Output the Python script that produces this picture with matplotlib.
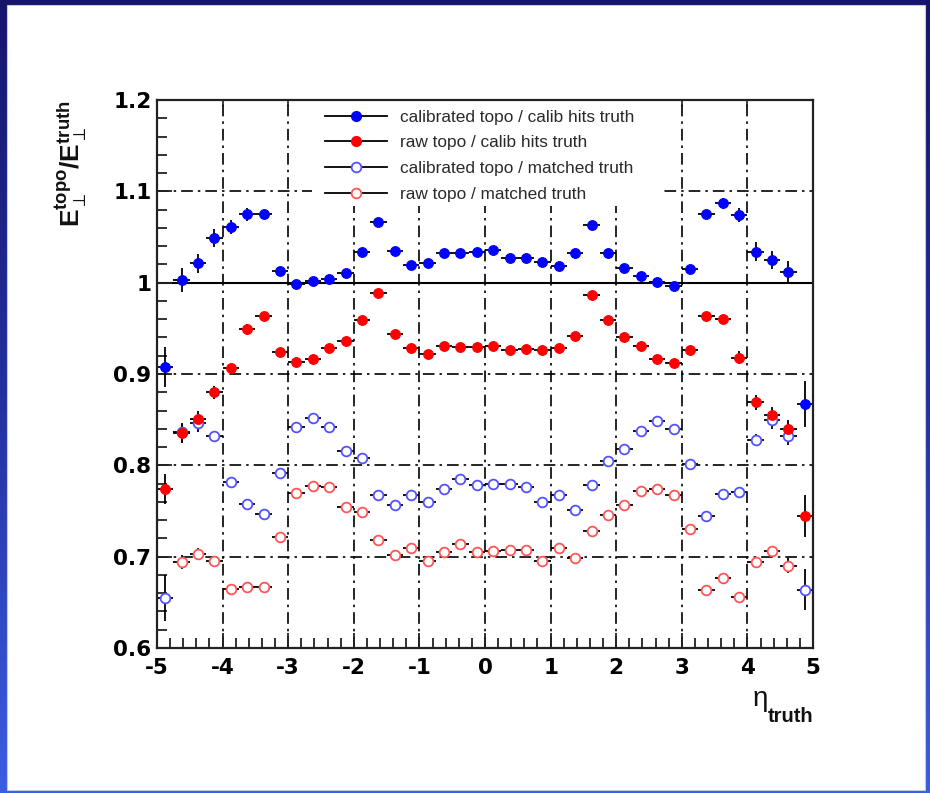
import numpy as np
import matplotlib
matplotlib.use("Agg")
import matplotlib.pyplot as plt
from matplotlib.lines import Line2D
from matplotlib.patches import Rectangle
from matplotlib.colors import LinearSegmentedColormap

plt.rcParams['mathtext.fontset'] = 'custom'
plt.rcParams['mathtext.rm'] = 'Liberation Sans'
plt.rcParams['mathtext.bf'] = 'Liberation Sans:bold'
plt.rcParams['mathtext.it'] = 'Liberation Sans:italic'

# eta bin centres (bin width 0.25)
eta = [-4.875, -4.625, -4.375, -4.125, -3.875, -3.625, -3.375, -3.125,
       -2.875, -2.625, -2.375, -2.125, -1.875, -1.625, -1.375, -1.125,
       -0.875, -0.625, -0.375, -0.125, 0.125, 0.375, 0.625, 0.875,
       1.125, 1.375, 1.625, 1.875, 2.125, 2.375, 2.625, 2.875,
       3.125, 3.375, 3.625, 3.875, 4.125, 4.375, 4.625, 4.875]
half_bin = 0.125

calib_over_calibhits = [0.908, 1.003, 1.021, 1.049, 1.061, 1.075, 1.075, 1.013,
                        0.998, 1.002, 1.004, 1.011, 1.034, 1.066, 1.035, 1.019,
                        1.021, 1.032, 1.032, 1.034, 1.036, 1.027, 1.027, 1.023,
                        1.018, 1.032, 1.063, 1.032, 1.016, 1.007, 1.001, 0.996,
                        1.0145, 1.075, 1.087, 1.074, 1.034, 1.025, 1.012, 0.867]
calib_over_calibhits_err = [0.022, 0.013, 0.010, 0.010, 0.008, 0.007, 0.004, 0.003,
                            0.003, 0.003, 0.003, 0.003, 0.003, 0.003, 0.003, 0.003,
                            0.003, 0.003, 0.003, 0.003, 0.003, 0.003, 0.003, 0.003,
                            0.003, 0.003, 0.003, 0.003, 0.003, 0.003, 0.003, 0.003,
                            0.003, 0.005, 0.006, 0.008, 0.010, 0.010, 0.012, 0.025]

raw_over_calibhits = [0.774, 0.835, 0.851, 0.880, 0.907, 0.949, 0.964, 0.924,
                      0.913, 0.916, 0.928, 0.936, 0.959, 0.989, 0.944, 0.928,
                      0.922, 0.931, 0.930, 0.930, 0.931, 0.926, 0.927, 0.926,
                      0.928, 0.942, 0.987, 0.959, 0.941, 0.931, 0.916, 0.912,
                      0.926, 0.964, 0.960, 0.918, 0.869, 0.855, 0.840, 0.745]
raw_over_calibhits_err = [0.016, 0.010, 0.009, 0.007, 0.004, 0.006, 0.004, 0.003,
                          0.003, 0.003, 0.003, 0.003, 0.003, 0.003, 0.003, 0.003,
                          0.003, 0.003, 0.003, 0.003, 0.003, 0.003, 0.003, 0.003,
                          0.003, 0.003, 0.003, 0.003, 0.003, 0.003, 0.003, 0.003,
                          0.003, 0.004, 0.004, 0.007, 0.008, 0.009, 0.010, 0.023]

calib_over_matched = [0.655, 0.836, 0.846, 0.832, 0.782, 0.758, 0.747, 0.792,
                      0.842, 0.852, 0.842, 0.816, 0.808, 0.768, 0.757, 0.767,
                      0.760, 0.774, 0.785, 0.778, 0.780, 0.780, 0.776, 0.760,
                      0.767, 0.751, 0.779, 0.805, 0.818, 0.838, 0.849, 0.840,
                      0.802, 0.744, 0.769, 0.771, 0.828, 0.850, 0.832, 0.664]
calib_over_matched_err = [0.025, 0.010, 0.010, 0.006, 0.003, 0.003, 0.003, 0.003,
                          0.003, 0.003, 0.003, 0.003, 0.003, 0.003, 0.003, 0.003,
                          0.003, 0.003, 0.003, 0.003, 0.003, 0.003, 0.003, 0.003,
                          0.003, 0.003, 0.003, 0.003, 0.003, 0.003, 0.003, 0.003,
                          0.003, 0.003, 0.003, 0.003, 0.006, 0.010, 0.010, 0.022]

raw_over_matched = [np.nan, 0.694, 0.703, 0.695, 0.665, 0.667, 0.667, 0.722,
                    0.770, 0.777, 0.776, 0.754, 0.749, 0.718, 0.702, 0.709,
                    0.695, 0.705, 0.714, 0.705, 0.706, 0.707, 0.707, 0.695,
                    0.709, 0.698, 0.728, 0.746, 0.757, 0.772, 0.774, 0.768,
                    0.730, 0.664, 0.677, 0.656, 0.694, 0.706, 0.690, np.nan]
raw_over_matched_err = [0.0, 0.008, 0.006, 0.004, 0.003, 0.003, 0.003, 0.003,
                        0.003, 0.003, 0.003, 0.003, 0.003, 0.003, 0.003, 0.003,
                        0.003, 0.003, 0.003, 0.003, 0.003, 0.003, 0.003, 0.003,
                        0.003, 0.003, 0.003, 0.003, 0.003, 0.003, 0.003, 0.003,
                        0.003, 0.003, 0.003, 0.003, 0.004, 0.005, 0.008, 0.0]

legend_labels = ["calibrated topo / calib hits truth",
                 "raw topo / calib hits truth",
                 "calibrated topo / matched truth",
                 "raw topo / matched truth"]

x_ticks = [-5, -4, -3, -2, -1, 0, 1, 2, 3, 4, 5]
y_ticks = [0.6, 0.7, 0.8, 0.9, 1.0, 1.1, 1.2]
y_ticklabels = ["0.6", "0.7", "0.8", "0.9", "1", "1.1", "1.2"]
x_grid = [-4, -3, -2, -1, 0, 1, 2, 3, 4]
y_grid = [0.7, 0.8, 0.9, 1.1]

W, H = 930, 793
fig = plt.figure(figsize=(W / 100, H / 100), dpi=100)

# slide background: blue gradient frame around a white panel
bg = fig.add_axes([0, 0, 1, 1], zorder=-10)
grad = np.linspace(0, 1, 256).reshape(-1, 1)
cmap_bg = LinearSegmentedColormap.from_list("slide", ["#15156c", "#23309e", "#3b5de4"])
bg.imshow(grad, aspect="auto", cmap=cmap_bg, extent=[0, 1, 0, 1], origin="upper")
bg.set_xlim(0, 1)
bg.set_ylim(0, 1)
bg.axis("off")
bg.add_patch(Rectangle((7 / W, 1 - 790 / H), (925 - 7) / W, (790 - 5) / H,
                       facecolor="white", edgecolor="#c8c8d8", lw=0.8))

ax = fig.add_axes([157 / W, 1 - 648 / H, (813 - 157) / W, (648 - 100) / H])
ax.set_facecolor("white")
ax.set_xlim(-5, 5)
ax.set_ylim(0.6, 1.2)

grid_style = dict(color="black", lw=1.2, ls=(0, (7, 3, 1.5, 3)), zorder=1)
for v in x_grid:
    ax.axvline(v, **grid_style)
for h in y_grid:
    ax.axhline(h, **grid_style)
ax.axhline(1.0, color="black", lw=1.5, zorder=1.2)

# white box behind the legend hides the grid there
ax.add_patch(Rectangle((0.236, 0.807), 0.531, 0.193, transform=ax.transAxes,
                       facecolor="white", edgecolor="none", zorder=1.5))

ms = 7.0
eb_kw = dict(xerr=half_bin, fmt="o", ecolor="black", elinewidth=1.3, capsize=0,
             markersize=ms, zorder=3)
ax.errorbar(eta, raw_over_matched, yerr=raw_over_matched_err,
            mfc="white", mec="#ff5555", mew=1.3, **eb_kw)
ax.errorbar(eta, calib_over_matched, yerr=calib_over_matched_err,
            mfc="white", mec="#5252ff", mew=1.3, **eb_kw)
ax.errorbar(eta, raw_over_calibhits, yerr=raw_over_calibhits_err,
            mfc="#ff0000", mec="#ff0000", mew=0.8, **eb_kw)
ax.errorbar(eta, calib_over_calibhits, yerr=calib_over_calibhits_err,
            mfc="#0000ff", mec="#0000ff", mew=0.8, **eb_kw)

handles = [
    Line2D([], [], color="black", lw=1.3, marker="o", ms=ms, mfc="#0000ff", mec="#0000ff"),
    Line2D([], [], color="black", lw=1.3, marker="o", ms=ms, mfc="#ff0000", mec="#ff0000"),
    Line2D([], [], color="black", lw=1.3, marker="o", ms=ms, mfc="white", mec="#5252ff", mew=1.3),
    Line2D([], [], color="black", lw=1.3, marker="o", ms=ms, mfc="white", mec="#ff5555", mew=1.3),
]
leg = ax.legend(handles, legend_labels, loc="upper left", bbox_to_anchor=(0.242, 1.0),
                frameon=False, handlelength=3.6, handletextpad=0.75,
                labelspacing=0.62, borderpad=0.55, borderaxespad=0.0,
                prop={"family": "Liberation Sans", "size": 12.4})
for t in leg.get_texts():
    t.set_color("#2a2a2a")
leg.set_zorder(4)

# axes, ticks and labels
for side in ["left", "bottom", "top", "right"]:
    ax.spines[side].set_linewidth(1.6)
    ax.spines[side].set_color("#222222")
    ax.spines[side].set_zorder(5)

ax.set_xticks(x_ticks)
ax.set_xticklabels([str(v) for v in x_ticks])
ax.set_yticks(y_ticks)
ax.set_yticklabels(y_ticklabels)
ax.set_xticks(np.arange(-5, 5.01, 0.2), minor=True)
ax.set_yticks(np.arange(0.6, 1.201, 0.02), minor=True)
ax.tick_params(which="both", direction="in", top=False, right=False, width=1.3,
               color="#222222")
ax.tick_params(which="major", length=11)
ax.tick_params(which="minor", length=7)
ax.tick_params(axis="x", which="major", pad=7)
ax.tick_params(axis="y", which="major", pad=4)
for lab in ax.get_xticklabels() + ax.get_yticklabels():
    lab.set_fontfamily("DejaVu Sans")
    lab.set_fontweight("bold")
    lab.set_fontsize(15.5)

sec = ax.secondary_xaxis("top")
sec.set_xticks(x_ticks)
sec.tick_params(direction="in", length=4, width=1.2, labeltop=False, color="#222222")
sec.spines["top"].set_visible(False)

# axis titles
fig.text(760 / W, 1 - 706 / H, "\u03b7", fontsize=20, family="Liberation Sans",
         ha="center", va="baseline", color="#111111")
fig.text(813 / W, 1 - 722 / H, "truth", fontsize=14.5, fontweight="bold",
         family="Liberation Sans", ha="right", va="baseline", color="#111111")

fig.text(72 / W, 1 - 164 / H,
         r"$\mathbf{E}_{\perp}^{\mathbf{topo}}\mathbf{/E}_{\perp}^{\mathbf{truth}}$",
         rotation=90, fontsize=19, ha="center", va="center", color="#111111")

fig.savefig("out.png", dpi=100)
